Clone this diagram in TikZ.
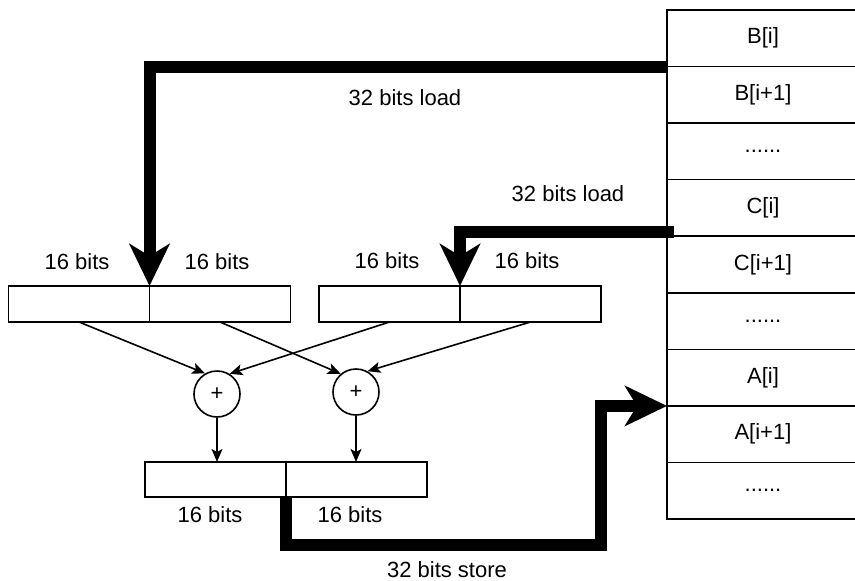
\documentclass[tikz,border=0pt]{standalone}
\usepackage{fontspec}
\setmainfont{Liberation Sans}
\usetikzlibrary{arrows.meta,positioning,calc}
\definecolor{ink}{RGB}{0,0,0}
\tikzset{
  every picture/.style={color=ink, line width=1.6pt, font=\fontsize{22}{26}\selectfont},
  cell/.style={draw=ink, fill=white, minimum width=192pt, minimum height=56.56pt, inner sep=0pt, outer sep=0pt, anchor=north west},
  reg/.style={draw=ink, fill=white, minimum width=141pt, minimum height=36pt, inner sep=0pt, outer sep=0pt},
  adder/.style={draw=ink, circle, minimum size=46pt, inner sep=0pt},
  flow/.style={-{Stealth[length=13pt,width=11pt,inset=3pt]}, line width=1.6pt},
  bus/.style={-{Stealth[length=42pt,width=40pt,inset=12pt]}, line width=12pt},
  lbl/.style={inner sep=1pt},
}

\begin{document}
\begin{tikzpicture}[x=1pt, y=1pt]
  \useasboundingbox (0,0) rectangle (855,-581);
  % memory
  \node[cell] (mB0) at (667,-10) {B[i]};
  \node[cell, below=0pt of mB0] (mB1) {B[i+1]};
  \node[cell, below=0pt of mB1] (mB2) {......};
  \node[cell, below=0pt of mB2] (mC0) {C[i]};
  \node[cell, below=0pt of mC0] (mC1) {C[i+1]};
  \node[cell, below=0pt of mC1] (mC2) {......};
  \node[cell, below=0pt of mC2] (mA0) {A[i]};
  \node[cell, below=0pt of mA0] (mA1) {A[i+1]};
  \node[cell, below=0pt of mA1] (mA2) {......};
  % registers
  \node[reg] (rB1) at (79,-304) {};
  \node[reg, right=0pt of rB1] (rB2) {};
  \node[reg] (rC1) at (389.5,-304) {};
  \node[reg, right=0pt of rC1] (rC2) {};
  \node[reg, minimum height=35pt] (rA1) at (215.5,-479.5) {};
  \node[reg, minimum height=35pt, right=0pt of rA1] (rA2) {};
  \node[lbl] (tB1) at (77,-262) {16 bits};
  \node[lbl] (tB2) at (217,-262) {16 bits};
  \node[lbl] (tC1) at (387,-261) {16 bits};
  \node[lbl] (tC2) at (527,-261) {16 bits};
  \node[lbl] (tA1) at (210,-515) {16 bits};
  \node[lbl] (tA2) at (350,-515) {16 bits};
  % adders
  \node[adder] (add1) at (217,-394) {+};
  \node[adder] (add2) at (356,-392) {+};
  \draw[flow] (rB1.south) -- (add1.120);
  \draw[flow] (rC1.south) -- (add1.58);
  \draw[flow] (rB2.south) -- (add2.130);
  \draw[flow] (rC2.south) -- (add2.61);
  \draw[flow] (add1) -- (add1 |- rA1.north);
  \draw[flow] (add2) -- (add2 |- rA2.north);
  % load / store
  \draw[bus] (mB0.south west) -| (rB1.north east);
  \draw[bus] ([xshift=7pt, yshift=4pt]mC0.south west) -| (rC1.north east);
  \draw[bus] (rA2.south west) -- ++(0,-48) -| ($(mA0.south west)+(-66,0)$) -- (mA0.south west);
  \node[lbl] (ldB) at (405,-98) {32 bits load};
  \node[lbl] (ldC) at (568,-194) {32 bits load};
  \node[lbl] (stA) at (447,-570) {32 bits store};
\end{tikzpicture}
\end{document}
